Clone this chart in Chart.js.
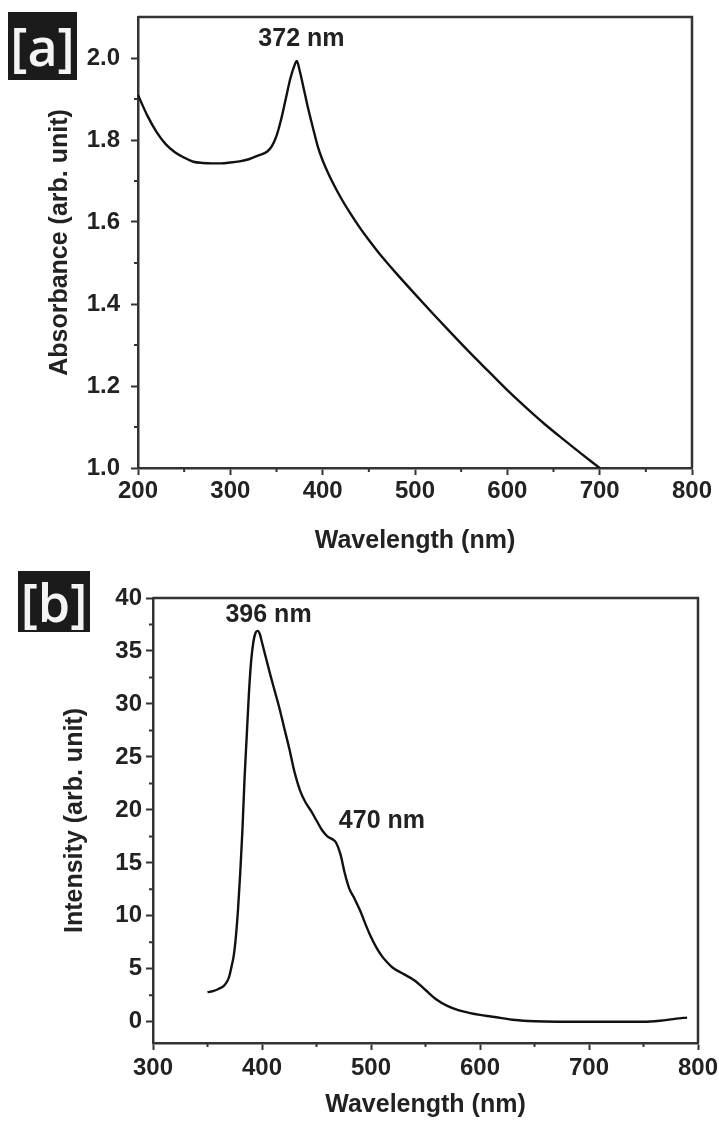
<!DOCTYPE html>
<html>
<head>
<meta charset="utf-8">
<script src="https://cdn.jsdelivr.net/npm/chart.js@4.4.0/dist/chart.umd.min.js"></script>
<style>
  body { margin: 0; background: #fff; width: 719px; height: 1123px; position: relative; overflow: hidden; }
  canvas { position: absolute; left: 0; }
  #absChart { top: 0; }
  #plChart { top: 560px; }
  .tag {
    position: absolute; background: #1b1b1b; color: #f4f4f4;
    font-family: 'Open Sans', 'DejaVu Sans', sans-serif; font-size: 52px; font-weight: 600;
    display: flex; align-items: center; justify-content: center; line-height: 1;
  }
  #tagA { left: 8px; top: 12px; width: 69px; height: 68px; }
  #tagB { left: 18px; top: 571px; width: 72px; height: 61px; }
</style>
</head>
<body>
<canvas id="absChart" width="719" height="560"></canvas>
<canvas id="plChart" width="719" height="563"></canvas>
<div class="tag" id="tagA">[a]</div>
<div class="tag" id="tagB">[b]</div>
<script>
// UV-vis absorbance spectrum
const wavelengthA = [200, 210, 220, 230, 240, 250, 260, 270, 280, 290, 300, 310, 320, 330, 340, 345,
  350, 355, 360, 365, 370, 372, 375, 380, 385, 390, 395, 400, 405, 410, 420, 430, 440, 450, 460, 470,
  480, 500, 520, 540, 560, 580, 600, 620, 640, 660, 680, 700];
const absorbance = [1.91, 1.86, 1.82, 1.79, 1.77, 1.757, 1.747, 1.744, 1.743, 1.743, 1.745, 1.748,
  1.753, 1.762, 1.772, 1.785, 1.81, 1.85, 1.90, 1.95, 1.985, 1.993, 1.97, 1.92, 1.87, 1.825, 1.782,
  1.75, 1.724, 1.70, 1.658, 1.621, 1.587, 1.556, 1.527, 1.50, 1.474, 1.424, 1.375, 1.327, 1.28,
  1.235, 1.19, 1.148, 1.108, 1.071, 1.035, 1.0];
const xTicksA = [200, 300, 400, 500, 600, 700, 800];
const xMinorA = [250, 350, 450, 550, 650, 750];
const yTicksA = [1.0, 1.2, 1.4, 1.6, 1.8, 2.0];
const yMinorA = [1.1, 1.3, 1.5, 1.7, 1.9];
const notesA = [{ text: '372 nm', x: 377, y: 2.045 }];

// Photoluminescence spectrum
const wavelengthB = [350, 355, 360, 365, 368, 370, 372, 374, 376, 378, 380, 382, 384, 386, 388, 390,
  392, 394, 396, 398, 400, 404, 408, 412, 416, 420, 425, 430, 435, 440, 445, 450, 455, 460, 465,
  468, 472, 476, 480, 485, 490, 495, 500, 505, 510, 515, 520, 530, 540, 550, 560, 570, 580, 590,
  600, 610, 620, 630, 640, 650, 700, 750, 765, 780, 790];
const intensity = [2.8, 2.9, 3.1, 3.4, 3.8, 4.3, 5.2, 6.2, 8.0, 10.6, 14, 18, 23, 27, 31, 34,
  35.8, 36.7, 36.9, 36.6, 35.8, 34.2, 32.6, 31.1, 29.6, 27.9, 25.8, 23.5, 21.8, 20.7, 19.9, 19.0,
  18.1, 17.5, 17.2, 16.9, 15.8, 14.0, 12.6, 11.6, 10.5, 9.2, 8.0, 7.0, 6.2, 5.6, 5.1, 4.5, 3.9,
  3.0, 2.1, 1.5, 1.1, 0.85, 0.65, 0.5, 0.35, 0.2, 0.1, 0.05, 0.0, 0.0, 0.1, 0.3, 0.4];
const xTicksB = [300, 400, 500, 600, 700, 800];
const xMinorB = [350, 450, 550, 650, 750];
const yTicksB = [0, 5, 10, 15, 20, 25, 30, 35, 40];
const yMinorB = [2.5, 7.5, 12.5, 17.5, 22.5, 27.5, 32.5, 37.5];
const notesB = [{ text: '396 nm', x: 406, y: 38.4 }, { text: '470 nm', x: 510, y: 18.9 }];

const INK = '#222';
const AXIS = '#333';
const FONT = "'Liberation Sans', Arial, sans-serif";

// frame on top/right, minor ticks and peak labels
const decor = {
  id: 'decor',
  afterDraw(chart, args, opts) {
    const { ctx, chartArea: a, scales: { x, y } } = chart;
    ctx.save();
    ctx.strokeStyle = AXIS;
    ctx.lineWidth = 2;
    ctx.beginPath();
    opts.xMinor.forEach(v => {
      const px = x.getPixelForValue(v);
      ctx.moveTo(px, a.bottom); ctx.lineTo(px, a.bottom + 4);
    });
    opts.yMinor.forEach(v => {
      const py = y.getPixelForValue(v);
      ctx.moveTo(a.left, py); ctx.lineTo(a.left - 4, py);
    });
    ctx.stroke();
    ctx.lineWidth = 2.5;
    ctx.beginPath();
    ctx.moveTo(a.left, a.top); ctx.lineTo(a.right, a.top); ctx.lineTo(a.right, a.bottom);
    ctx.stroke();
    ctx.fillStyle = INK;
    ctx.font = 'bold 25px ' + FONT;
    ctx.textAlign = 'center';
    ctx.textBaseline = 'middle';
    opts.notes.forEach(n => ctx.fillText(n.text, x.getPixelForValue(n.x), y.getPixelForValue(n.y)));
    ctx.restore();
  }
};

function spectrum(id, xs, ys, cfg) {
  new Chart(document.getElementById(id), {
    type: 'line',
    data: {
      datasets: [{
        data: xs.map((v, i) => ({ x: v, y: ys[i] })),
        borderColor: '#111',
        borderWidth: 2.4,
        pointRadius: 0,
        cubicInterpolationMode: 'monotone',
        fill: false
      }]
    },
    options: {
      responsive: false,
      animation: false,
      layout: { padding: cfg.padding },
      plugins: {
        legend: { display: false },
        tooltip: { enabled: false },
        decor: { xMinor: cfg.xMinor, yMinor: cfg.yMinor, notes: cfg.notes }
      },
      scales: {
        x: {
          type: 'linear',
          min: cfg.xTicks[0],
          max: cfg.xTicks[cfg.xTicks.length - 1],
          afterBuildTicks: s => { s.ticks = cfg.xTicks.map(v => ({ value: v })); },
          afterFit: s => { s.height = cfg.xHeight; s.paddingLeft = 0; s.paddingRight = 0; },
          grid: { drawOnChartArea: false, tickLength: 7, tickWidth: 2, tickColor: AXIS },
          border: { color: AXIS, width: 2.5 },
          ticks: { color: INK, padding: cfg.xPad, maxRotation: 0, font: { family: FONT, size: 24, weight: 'bold' } },
          title: {
            display: true, text: 'Wavelength (nm)', color: INK,
            padding: { top: 0, bottom: cfg.titlePad },
            font: { family: FONT, size: 25, weight: 'bold' }
          }
        },
        y: {
          min: cfg.yMin,
          max: cfg.yMax,
          afterBuildTicks: s => { s.ticks = cfg.yTicks.map(v => ({ value: v })); },
          afterFit: s => { s.width = 93; s.paddingTop = 0; s.paddingBottom = 0; },
          grid: { drawOnChartArea: false, tickLength: 7, tickWidth: 2, tickColor: AXIS },
          border: { color: AXIS, width: 2.5 },
          ticks: {
            color: INK, padding: cfg.yPad,
            font: { family: FONT, size: 24, weight: 'bold' },
            callback: cfg.yFormat
          },
          title: {
            display: true, text: cfg.yTitle, color: INK,
            padding: { top: 0, bottom: 0 },
            font: { family: FONT, size: 25, weight: 'bold' }
          }
        }
      }
    },
    plugins: [decor]
  });
}

spectrum('absChart', wavelengthA, absorbance, {
  padding: { left: 45, top: 17, right: 27, bottom: 0 },
  xTicks: xTicksA, xMinor: xMinorA, yTicks: yTicksA, yMinor: yMinorA, notes: notesA,
  yMin: 1.0, yMax: 2.1, xHeight: 92, xPad: 2, yPad: 11, titlePad: 4,
  yTitle: 'Absorbance (arb. unit)',
  yFormat: v => v.toFixed(1)
});

spectrum('plChart', wavelengthB, intensity, {
  padding: { left: 60, top: 38, right: 21, bottom: 0 },
  xTicks: xTicksB, xMinor: xMinorB, yTicks: yTicksB, yMinor: yMinorB, notes: notesB,
  yMin: -2, yMax: 40, xHeight: 80, xPad: 4, yPad: 4, titlePad: 3,
  yTitle: 'Intensity (arb. unit)',
  yFormat: v => String(v)
});
</script>
</body>
</html>
